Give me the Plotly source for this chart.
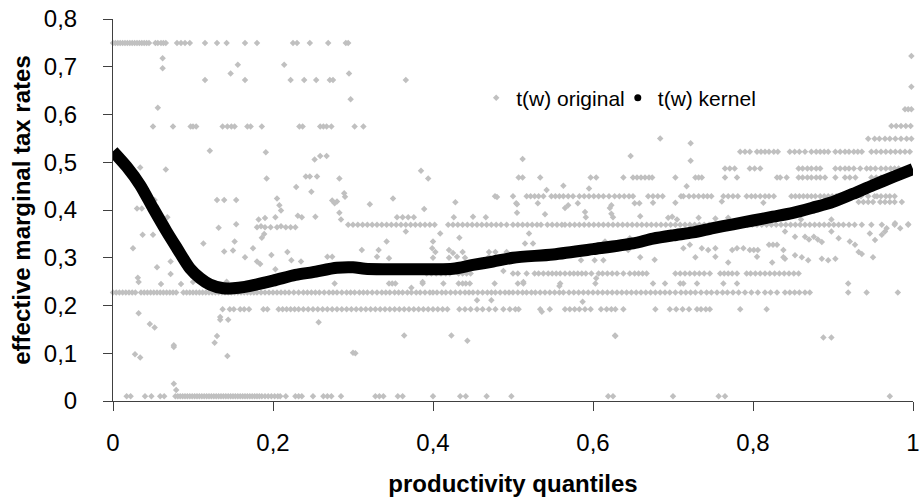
import plotly.graph_objects as go

# ---------------- data ----------------
# t(w) original : points that sit on horizontal levels (x positions per level)
lvl_075_x = [0.0,0.003,0.006,0.009,0.012,0.015,0.018,0.021,0.024,0.027,0.03,0.033,0.036,0.039,0.042,0.045,
             0.053,0.056,0.06,0.063,0.066,0.08,0.085,0.09,0.096,0.115,0.13,0.142,0.165,0.18,0.225,0.23,
             0.246,0.269,0.291,0.294]
lvl_067_x = [0.115,0.165,0.222,0.239,0.254,0.271,0.275,0.366]
lvl_057_x = [0.05,0.075,0.097,0.1,0.104,0.137,0.143,0.148,0.152,0.168,0.172,0.186,0.233,0.237,0.259,0.263,
             0.267,0.273,0.302,0.313]
lvl_052_x = [0.784,0.79,0.796,0.805,0.81,0.815,0.82,0.826,0.831,0.846,0.852,0.858,0.865,0.873,0.879,0.884,
             0.889,0.894,0.903,0.909,0.915,0.92,0.926,0.931,0.936,0.948,0.954,0.96,0.966,0.972,0.978,0.984,
             0.99,0.996]
lvl_049_x = [0.765,0.771,0.777,0.796,0.802,0.809,0.857,0.862,0.868,0.873,0.879,0.884,0.903,0.909,0.915,0.92,
             0.926,0.934,0.942,0.947,0.953,0.96,0.966,0.972,0.977,0.982]
lvl_047_x = [0.507,0.512,0.534,0.597,0.604,0.638,0.65,0.655,0.66,0.665,0.67,0.674,0.703,0.728,0.732,0.736,
             0.765,0.78,0.83,0.834,0.842,0.857,0.862,0.868,0.873,0.879,0.884,0.89,0.903,0.915,0.921,0.928,
             0.948,0.954,0.96,0.965]
lvl_043_x = [0.4775,0.5,0.517,0.522,0.527,0.532,0.538,0.548,0.553,0.558,0.563,0.569,0.575,0.583,0.589,0.595,
             0.601,0.607,0.613,0.62,0.627,0.633,0.639,0.645,0.65,0.669,0.675,0.681,0.687,0.71,0.713,0.72,
             0.726,0.732,0.738,0.743,0.748,0.763,0.769,0.775,0.781,0.792,0.798,0.803,0.809,0.815,0.82,
             0.826,0.848,0.853,0.858,0.863,0.868,0.873,0.878,0.884,0.889,0.894,0.899,0.904,0.909,0.913,
             0.918,0.923,0.929,0.935,0.944,0.952,0.955,0.96,0.966,0.971,0.977]
lvl_037_x = [0.294,0.3,0.306,0.312,0.318,0.324,0.33,0.336,0.342,0.348,0.354,0.36,0.366,0.372,0.378,0.384,
             0.39,0.396,0.402,0.419,0.425,0.431,0.437,0.443,0.449,0.455,0.461,0.467,0.473,0.479,0.485,
             0.492,0.5,0.506,0.512,0.518,0.524,0.53,0.535,0.543,0.549,0.555,0.561,0.565,0.571,0.577,0.583,
             0.589,0.595,0.601,0.607,0.613,0.619,0.625,0.631,0.637,0.643,0.649,0.655,0.661,0.667,0.673,
             0.679,0.685,0.691,0.697,0.703,0.709,0.715,0.721,0.727,0.733,0.739,0.745,0.751,0.757,0.763,
             0.769,0.775,0.781,0.787,0.793,0.799,0.805,0.811,0.817,0.823,0.829,0.835,0.841,0.847,0.853,
             0.859,0.865,0.871,0.877,0.883,0.889,0.895,0.901,0.907,0.913,0.92,0.927,0.936,0.948,0.961,
             0.977,0.994]
lvl_027_x = [0.392,0.398,0.404,0.41,0.416,0.421,0.432,0.437,0.442,0.447,0.5,0.506,0.517,0.527,0.532,0.538,
             0.544,0.549,0.554,0.559,0.565,0.571,0.576,0.581,0.586,0.591,0.598,0.607,0.612,0.618,0.624,
             0.63,0.638,0.646,0.652,0.657,0.662,0.667,0.703,0.709,0.715,0.721,0.727,0.733,0.739,0.746,
             0.759,0.764,0.769,0.774,0.78,0.792,0.797,0.803,0.809,0.815,0.821,0.827,0.833,0.839,0.845,
             0.851,0.857]
lvl_025_x = [0.277,0.345,0.349,0.353,0.387,0.413,0.432,0.437,0.441,0.446,0.477,0.506,0.513,0.559,0.603,
             0.675,0.69,0.709,0.713,0.73,0.763,0.78,0.919]
lvl_023_x = [0.0,0.004,0.008,0.012,0.016,0.02,0.024,0.028,0.035,0.039,0.043,0.047,0.051,0.055,0.059,0.063,
             0.067,0.071,0.075,0.079,0.088,0.092,0.096,0.1,0.104,0.108,0.112,0.116,0.12,0.124,0.128,0.132,
             0.136,0.14,0.144,0.148,0.152,0.156,0.16,0.164,0.168,0.172,0.176,0.18,0.185,0.19,0.195,0.2,
             0.205,0.21,0.215,0.22,0.226,0.232,0.238,0.243,0.248,0.253,0.258,0.264,0.27,0.275,0.28,0.286,
             0.292,0.297,0.302,0.308,0.313,0.318,0.324,0.33,0.336,0.341,0.346,0.352,0.357,0.362,0.368,
             0.373,0.379,0.384,0.39,0.396,0.4,0.405,0.411,0.416,0.422,0.428,0.434,0.44,0.445,0.45,0.456,
             0.462,0.468,0.473,0.478,0.484,0.49,0.495,0.5,0.506,0.512,0.517,0.523,0.528,0.534,0.54,0.546,
             0.552,0.558,0.563,0.57,0.576,0.582,0.588,0.594,0.6,0.606,0.612,0.618,0.624,0.63,0.636,0.642,
             0.648,0.654,0.66,0.666,0.672,0.678,0.684,0.69,0.696,0.703,0.71,0.716,0.722,0.728,0.735,0.742,
             0.748,0.755,0.762,0.768,0.775,0.782,0.79,0.798,0.806,0.815,0.822,0.83,0.84,0.846,0.852,0.858,
             0.865,0.871,0.919,0.942,0.981]
lvl_019_x = [0.137,0.146,0.151,0.159,0.164,0.17,0.188,0.193,0.207,0.212,0.217,0.222,0.227,0.232,0.238,0.244,
             0.25,0.256,0.262,0.268,0.274,0.28,0.286,0.292,0.298,0.304,0.31,0.316,0.322,0.328,0.334,0.34,
             0.346,0.352,0.358,0.364,0.37,0.376,0.382,0.388,0.394,0.4,0.406,0.412,0.418,0.433,0.44,0.447,
             0.455,0.462,0.47,0.478,0.488,0.496,0.503,0.507,0.534,0.546,0.565,0.571,0.577,0.583,0.59,0.597,
             0.61,0.617,0.623,0.628,0.638,0.678,0.696,0.704,0.712,0.72,0.73,0.735,0.741,0.746,0.784,0.817]
lvl_001_x = [0.017,0.022,0.04,0.048,0.059,0.064,0.078,0.081,0.084,0.087,0.09,0.093,0.096,0.099,0.102,0.105,
             0.108,0.111,0.114,0.117,0.12,0.123,0.126,0.129,0.132,0.135,0.138,0.141,0.144,0.147,0.15,0.153,
             0.156,0.159,0.162,0.165,0.168,0.171,0.174,0.177,0.18,0.183,0.186,0.19,0.194,0.198,0.202,0.206,
             0.209,0.216,0.228,0.232,0.236,0.25,0.263,0.268,0.273,0.285,0.328,0.333,0.338,0.356,0.362,0.4,
             0.434,0.441,0.467,0.498,0.619,0.625,0.7,0.757,0.765,0.971]

levels = [0.75, 0.672, 0.575, 0.522, 0.487, 0.468, 0.429, 0.369, 0.267, 0.246, 0.227, 0.192, 0.01]
level_x = [lvl_075_x, lvl_067_x, lvl_057_x, lvl_052_x, lvl_049_x, lvl_047_x, lvl_043_x, lvl_037_x,
           lvl_027_x, lvl_025_x, lvl_023_x, lvl_019_x, lvl_001_x]

# t(w) original : scattered points off the levels
scat_x = [0.062,0.062,0.156,0.147,0.056,0.121,0.034,0.066,0.297,0.214,0.295,
          0.191,0.192,0.241,0.246,0.255,0.252,0.259,0.267,0.283,0.229,0.248,0.205,0.208,0.21,0.231,0.236,
          0.253,0.274,0.277,0.28,0.289,0.29,0.321,0.283,0.285,0.182,0.19,0.203,
          0.18,0.185,0.19,0.197,0.205,0.21,0.216,0.222,0.228,
          0.186,0.189,0.175,0.198,0.218,0.18,0.184,0.203,0.223,0.235,0.274,0.311,0.332,0.257,0.303,
          0.052,0.03,0.036,0.068,0.037,0.05,0.025,0.072,0.055,0.031,0.032,0.06,0.072,0.085,0.1,0.113,
          0.13,0.139,0.154,0.132,0.154,0.139,0.15,0.152,0.165,0.142,
          0.032,0.046,0.052,0.076,0.076,0.0275,0.034,0.076,0.079,0.134,0.134,0.144,0.13,0.127,0.143,
          0.385,0.394,0.35,0.48,0.505,0.505,0.389,0.428,0.426,0.45,0.466,0.355,0.362,0.369,0.376,
          0.366,0.409,0.433,0.342,0.4,0.399,0.403,0.42,0.425,0.437,0.47,0.478,0.492,0.345,0.488,0.373,
          0.387,0.455,0.473,0.364,0.423,0.443,0.30,0.268,0.33,0.4,0.42,0.43,0.44,0.47,0.48,0.49,
          0.512,0.647,0.542,0.563,0.595,0.504,0.531,0.569,0.565,0.581,0.623,0.621,0.652,0.658,0.54,0.59,
          0.591,0.625,0.623,0.659,0.52,0.515,0.525,0.588,0.602,0.613,0.644,0.659,0.646,0.615,0.604,0.513,
          0.558,0.587,0.536,0.628,0.6275,0.585,0.602,0.613,
          0.684,0.722,0.722,0.717,0.675,0.703,0.761,0.813,0.694,0.699,0.705,0.732,0.753,0.769,0.83,
          0.675,0.688,0.713,0.721,0.736,0.744,0.753,0.774,0.78,0.788,0.796,0.801,0.806,0.82,0.825,0.83,
          0.838,0.677,0.728,0.753,0.769,0.805,0.824,0.838,
          0.84,0.8525,0.865,0.87,0.876,0.881,0.886,0.898,0.907,0.921,0.9275,0.946,0.9525,0.961,0.965,
          0.967,0.9775,0.984,0.994,0.84,0.8525,0.861,0.869,0.886,0.894,0.903,0.932,0.936,0.95,
          0.973,0.979,0.985,0.991,0.997,0.944,0.952,0.958,0.965,0.971,0.978,0.985,0.992,0.998,
          0.99,0.994,0.998,0.998,0.998,
          0.932,0.938,0.944,0.95,0.959,0.965,0.971,0.977,0.986,0.898,0.86,0.888,0.898]
scat_y = [0.718,0.697,0.704,0.686,0.614,0.524,0.489,0.485,0.632,0.704,0.686,
          0.521,0.466,0.47,0.47,0.47,0.506,0.513,0.513,0.466,0.448,0.438,0.424,0.41,0.399,0.388,0.385,
          0.386,0.42,0.414,0.418,0.435,0.428,0.412,0.394,0.38,0.38,0.383,0.385,
          0.364,0.366,0.364,0.364,0.364,0.366,0.364,0.364,0.364,
          0.342,0.35,0.32,0.306,0.312,0.292,0.287,0.276,0.295,0.292,0.302,0.316,0.316,0.165,0.1,
          0.421,0.403,0.403,0.385,0.348,0.348,0.32,0.292,0.28,0.258,0.249,0.245,0.266,0.245,0.249,0.33,
          0.421,0.421,0.421,0.363,0.37,0.313,0.315,0.334,0.301,0.25,
          0.184,0.161,0.154,0.117,0.113,0.098,0.091,0.036,0.023,0.17,0.176,0.17,0.136,0.122,0.094,
          0.482,0.466,0.424,0.427,0.412,0.394,0.402,0.416,0.385,0.386,0.385,0.385,0.385,0.385,0.385,
          0.355,0.351,0.342,0.334,0.334,0.32,0.312,0.316,0.31,0.312,0.312,0.312,0.312,0.299,0.272,0.237,
          0.249,0.211,0.211,0.137,0.137,0.126,0.101,0.302,0.302,0.30,0.30,0.302,0.30,0.302,0.30,0.302,
          0.507,0.513,0.442,0.451,0.445,0.414,0.414,0.41,0.404,0.414,0.41,0.404,0.414,0.414,0.391,0.396,
          0.385,0.385,0.392,0.387,0.351,0.33,0.33,0.316,0.316,0.316,0.316,0.301,0.341,0.334,0.257,0.249,
          0.241,0.208,0.187,0.136,0.137,0.295,0.295,0.295,
          0.55,0.54,0.503,0.45,0.415,0.415,0.418,0.415,0.384,0.386,0.38,0.384,0.382,0.384,0.386,
          0.341,0.341,0.32,0.327,0.32,0.316,0.32,0.316,0.32,0.32,0.316,0.316,0.316,0.327,0.327,0.327,
          0.316,0.296,0.301,0.302,0.29,0.302,0.29,0.301,
          0.355,0.344,0.344,0.338,0.344,0.338,0.333,0.355,0.341,0.334,0.327,0.351,0.337,0.348,0.355,
          0.362,0.372,0.362,0.37,0.298,0.305,0.301,0.295,0.298,0.295,0.298,0.312,0.308,0.301,
          0.576,0.576,0.576,0.576,0.576,0.549,0.549,0.549,0.549,0.549,0.549,0.549,0.549,0.549,
          0.611,0.611,0.611,0.658,0.7225,
          0.417,0.417,0.417,0.417,0.417,0.417,0.417,0.417,0.417,0.38,0.38,0.133,0.133]

# t(w) kernel : smoothed curve
kern_x = [0,0.017,0.034,0.05,0.067,0.08,0.096,0.109,0.121,0.138,0.15,0.165,0.2,0.228,0.25,0.28,0.3,0.315,
          0.34,0.4,0.425,0.45,0.475,0.5,0.55,0.6,0.65,0.675,0.7,0.725,0.75,0.775,0.8,0.825,0.85,0.875,
          0.9,0.925,0.95,0.975,1.0]
kern_y = [0.523,0.491,0.452,0.404,0.355,0.32,0.278,0.257,0.244,0.236,0.236,0.239,0.252,0.264,0.27,0.279,
          0.28,0.277,0.276,0.276,0.277,0.285,0.292,0.3,0.307,0.318,0.33,0.34,0.347,0.353,0.362,0.37,0.378,
          0.386,0.394,0.405,0.417,0.434,0.452,0.469,0.486]

x_ticks = [0, 0.2, 0.4, 0.6, 0.8, 1]
y_ticks = [0, 0.1, 0.2, 0.3, 0.4, 0.5, 0.6, 0.7, 0.8]

# ---------------- build ----------------
orig_x, orig_y = [], []
for lv, xs in zip(levels, level_x):
    orig_x += xs
    orig_y += [lv] * len(xs)
orig_x += scat_x
orig_y += scat_y

FONT = "Liberation Sans, Arial, sans-serif"

fig = go.Figure()
fig.add_trace(go.Scatter(
    x=orig_x, y=orig_y, mode="markers", name="t(w) original", legend="legend",
    marker=dict(symbol="diamond", size=5, color="#c0c0c0", line=dict(width=0)),
    cliponaxis=False,
))
fig.add_trace(go.Scatter(
    x=kern_x, y=kern_y, mode="lines", showlegend=False,
    line=dict(color="#000000", width=12, shape="spline", smoothing=0.8),
))
fig.add_trace(go.Scatter(
    x=[None], y=[None], mode="markers", name="t(w) kernel", legend="legend2",
    marker=dict(symbol="circle", size=7, color="#000000"),
))

axis_common = dict(
    showgrid=False, zeroline=False, showline=True, linecolor="#404040", linewidth=1,
    ticks="outside", ticklen=9, tickcolor="#404040", tickwidth=1, automargin=False,
    tickfont=dict(family=FONT, size=24, color="#000000"),
)

legend_common = dict(
    orientation="h", xanchor="left", y=0.793, yanchor="middle",
    font=dict(family=FONT, size=21, color="#000000"),
    bgcolor="rgba(0,0,0,0)", itemwidth=30,
)

fig.update_layout(
    template="none",
    width=920, height=501,
    margin=dict(l=113, r=7, t=19, b=100, autoexpand=False),
    paper_bgcolor="white", plot_bgcolor="white",
    separators=", ",
    showlegend=True,
    legend=dict(x=0.454, **legend_common),
    legend2=dict(x=0.631, **legend_common),
    xaxis=dict(
        range=[0, 1], tickvals=x_ticks, **axis_common,
        ticklabelstandoff=11,
        title=dict(text="<b>productivity quantiles</b>", standoff=20,
                   font=dict(family=FONT, size=24, color="#000000")),
    ),
    yaxis=dict(
        range=[0, 0.8], tickvals=y_ticks, **axis_common,
        ticklabelstandoff=21,
        title=dict(text="<b>effective marginal tax rates</b>", standoff=6,
                   font=dict(family=FONT, size=24, color="#000000")),
    ),
)

fig.write_html(
    "out.html",
    config={"displayModeBar": False},
    post_script="document.body.style.margin='0';document.body.style.overflow='hidden';",
)
